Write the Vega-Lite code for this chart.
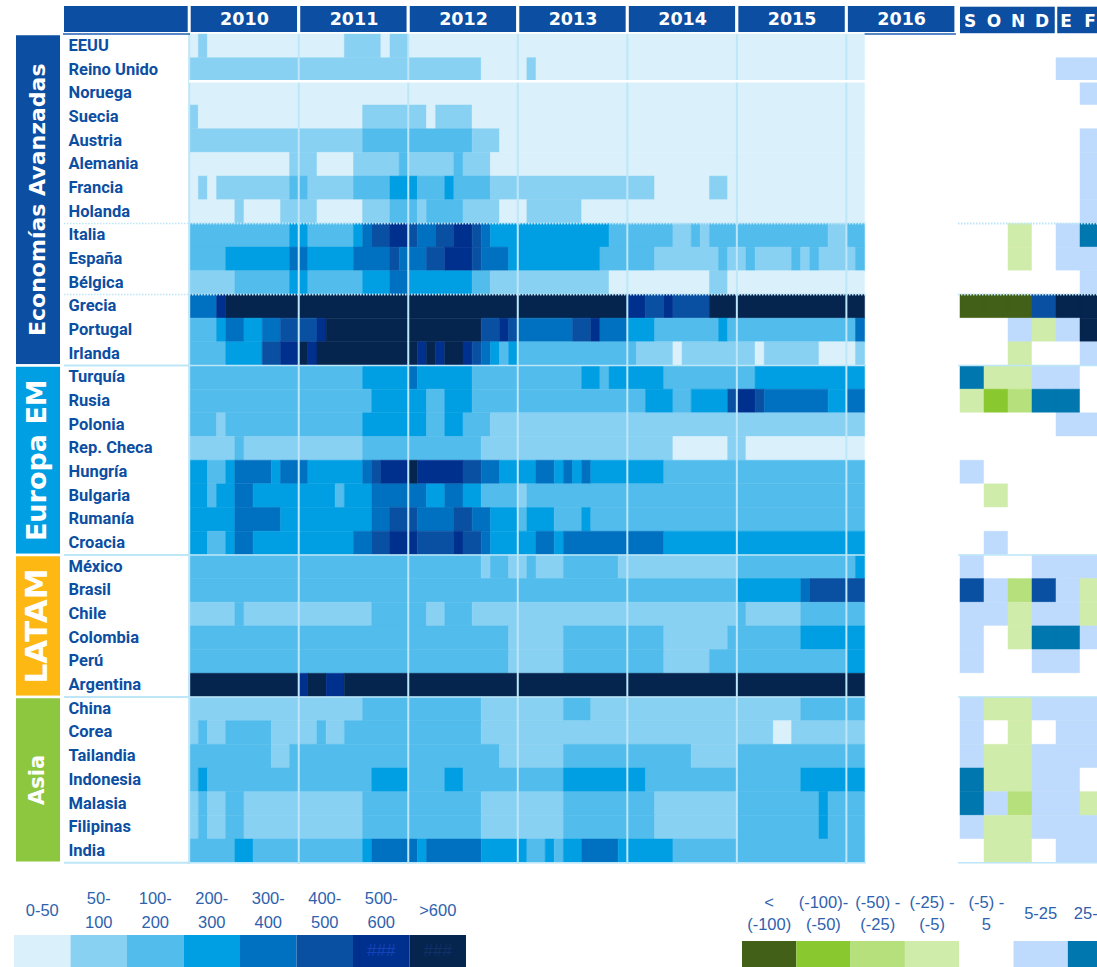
{
"$schema": "https://vega.github.io/schema/vega-lite/v6.json",
"width": 1097, "height": 967, "autosize": "none", "padding": 0, "background": "#ffffff",
"config": {"view": {"stroke": null}, "axis": {"grid": false}, "legend": {"disable": true}},
"resolve": {"scale": {"x": "independent", "y": "independent", "color": "independent", "fill": "independent", "stroke": "independent", "strokeDash": "independent", "strokeWidth": "independent", "size": "independent"}},
"datasets": {
"anios": [{"anio":2010,"desde":0,"hasta":12},{"anio":2011,"desde":12,"hasta":24},{"anio":2012,"desde":24,"hasta":36},{"anio":2013,"desde":36,"hasta":48},{"anio":2014,"desde":48,"hasta":60},{"anio":2015,"desde":60,"hasta":72},{"anio":2016,"desde":72,"hasta":84}],
"meses": [{"mes":"S","anio":2015},{"mes":"O","anio":2015},{"mes":"N","anio":2015},{"mes":"D","anio":2015},{"mes":"E","anio":2016},{"mes":"F","anio":2016}],
"paises": [
{"pais":"EEUU","grupo":"Economías Avanzadas"},{"pais":"Reino Unido","grupo":"Economías Avanzadas"},{"pais":"Noruega","grupo":"Economías Avanzadas"},{"pais":"Suecia","grupo":"Economías Avanzadas"},{"pais":"Austria","grupo":"Economías Avanzadas"},{"pais":"Alemania","grupo":"Economías Avanzadas"},{"pais":"Francia","grupo":"Economías Avanzadas"},{"pais":"Holanda","grupo":"Economías Avanzadas"},{"pais":"Italia","grupo":"Economías Avanzadas"},{"pais":"España","grupo":"Economías Avanzadas"},{"pais":"Bélgica","grupo":"Economías Avanzadas"},{"pais":"Grecia","grupo":"Economías Avanzadas"},{"pais":"Portugal","grupo":"Economías Avanzadas"},{"pais":"Irlanda","grupo":"Economías Avanzadas"},
{"pais":"Turquía","grupo":"Europa EM"},{"pais":"Rusia","grupo":"Europa EM"},{"pais":"Polonia","grupo":"Europa EM"},{"pais":"Rep. Checa","grupo":"Europa EM"},{"pais":"Hungría","grupo":"Europa EM"},{"pais":"Bulgaria","grupo":"Europa EM"},{"pais":"Rumanía","grupo":"Europa EM"},{"pais":"Croacia","grupo":"Europa EM"},
{"pais":"México","grupo":"LATAM"},{"pais":"Brasil","grupo":"LATAM"},{"pais":"Chile","grupo":"LATAM"},{"pais":"Colombia","grupo":"LATAM"},{"pais":"Perú","grupo":"LATAM"},{"pais":"Argentina","grupo":"LATAM"},
{"pais":"China","grupo":"Asia"},{"pais":"Corea","grupo":"Asia"},{"pais":"Tailandia","grupo":"Asia"},{"pais":"Indonesia","grupo":"Asia"},{"pais":"Malasia","grupo":"Asia"},{"pais":"Filipinas","grupo":"Asia"},{"pais":"India","grupo":"Asia"}],
"separadores": [{"pais":"Noruega","linea":"blanca"},{"pais":"Italia","linea":"punteada"},{"pais":"Grecia","linea":"punteada"},{"pais":"Turquía","linea":"continua"},{"pais":"México","linea":"continua"},{"pais":"China","linea":"continua"},{"pais":"(fin)","linea":"continua"}],
"leyenda_niveles": [{"nivel":1,"etiqueta":"0-50"},{"nivel":2,"etiqueta":"50-\n100"},{"nivel":3,"etiqueta":"100-\n200"},{"nivel":4,"etiqueta":"200-\n300"},{"nivel":5,"etiqueta":"300-\n400"},{"nivel":6,"etiqueta":"400-\n500"},{"nivel":7,"etiqueta":"500-\n600","relleno":"###"},{"nivel":8,"etiqueta":">600","relleno":"###"}],
"leyenda_cambios": [{"tramo":-4,"etiqueta":"<\n(-100)"},{"tramo":-3,"etiqueta":"(-100)-\n(-50)"},{"tramo":-2,"etiqueta":"(-50) -\n(-25)"},{"tramo":-1,"etiqueta":"(-25) -\n(-5)"},{"tramo":0,"etiqueta":"(-5) -\n5"},{"tramo":1,"etiqueta":"5-25"},{"tramo":2,"etiqueta":"25-50"}],
"cambios": [
{"pais":"EEUU","mes":"S","tramo":0},{"pais":"EEUU","mes":"O","tramo":0},{"pais":"EEUU","mes":"N","tramo":0},{"pais":"EEUU","mes":"D","tramo":0},{"pais":"EEUU","mes":"E","tramo":0},{"pais":"EEUU","mes":"F","tramo":0},
{"pais":"Reino Unido","mes":"S","tramo":0},{"pais":"Reino Unido","mes":"O","tramo":0},{"pais":"Reino Unido","mes":"N","tramo":0},{"pais":"Reino Unido","mes":"D","tramo":0},{"pais":"Reino Unido","mes":"E","tramo":1},{"pais":"Reino Unido","mes":"F","tramo":1},
{"pais":"Noruega","mes":"S","tramo":0},{"pais":"Noruega","mes":"O","tramo":0},{"pais":"Noruega","mes":"N","tramo":0},{"pais":"Noruega","mes":"D","tramo":0},{"pais":"Noruega","mes":"E","tramo":0},{"pais":"Noruega","mes":"F","tramo":1},
{"pais":"Suecia","mes":"S","tramo":0},{"pais":"Suecia","mes":"O","tramo":0},{"pais":"Suecia","mes":"N","tramo":0},{"pais":"Suecia","mes":"D","tramo":0},{"pais":"Suecia","mes":"E","tramo":0},{"pais":"Suecia","mes":"F","tramo":0},
{"pais":"Austria","mes":"S","tramo":0},{"pais":"Austria","mes":"O","tramo":0},{"pais":"Austria","mes":"N","tramo":0},{"pais":"Austria","mes":"D","tramo":0},{"pais":"Austria","mes":"E","tramo":0},{"pais":"Austria","mes":"F","tramo":1},
{"pais":"Alemania","mes":"S","tramo":0},{"pais":"Alemania","mes":"O","tramo":0},{"pais":"Alemania","mes":"N","tramo":0},{"pais":"Alemania","mes":"D","tramo":0},{"pais":"Alemania","mes":"E","tramo":0},{"pais":"Alemania","mes":"F","tramo":1},
{"pais":"Francia","mes":"S","tramo":0},{"pais":"Francia","mes":"O","tramo":0},{"pais":"Francia","mes":"N","tramo":0},{"pais":"Francia","mes":"D","tramo":0},{"pais":"Francia","mes":"E","tramo":0},{"pais":"Francia","mes":"F","tramo":1},
{"pais":"Holanda","mes":"S","tramo":0},{"pais":"Holanda","mes":"O","tramo":0},{"pais":"Holanda","mes":"N","tramo":0},{"pais":"Holanda","mes":"D","tramo":0},{"pais":"Holanda","mes":"E","tramo":0},{"pais":"Holanda","mes":"F","tramo":1},
{"pais":"Italia","mes":"S","tramo":0},{"pais":"Italia","mes":"O","tramo":0},{"pais":"Italia","mes":"N","tramo":-1},{"pais":"Italia","mes":"D","tramo":0},{"pais":"Italia","mes":"E","tramo":1},{"pais":"Italia","mes":"F","tramo":2},
{"pais":"España","mes":"S","tramo":0},{"pais":"España","mes":"O","tramo":0},{"pais":"España","mes":"N","tramo":-1},{"pais":"España","mes":"D","tramo":0},{"pais":"España","mes":"E","tramo":1},{"pais":"España","mes":"F","tramo":1},
{"pais":"Bélgica","mes":"S","tramo":0},{"pais":"Bélgica","mes":"O","tramo":0},{"pais":"Bélgica","mes":"N","tramo":0},{"pais":"Bélgica","mes":"D","tramo":0},{"pais":"Bélgica","mes":"E","tramo":0},{"pais":"Bélgica","mes":"F","tramo":1},
{"pais":"Grecia","mes":"S","tramo":-4},{"pais":"Grecia","mes":"O","tramo":-4},{"pais":"Grecia","mes":"N","tramo":-4},{"pais":"Grecia","mes":"D","tramo":3},{"pais":"Grecia","mes":"E","tramo":4},{"pais":"Grecia","mes":"F","tramo":4},
{"pais":"Portugal","mes":"S","tramo":0},{"pais":"Portugal","mes":"O","tramo":0},{"pais":"Portugal","mes":"N","tramo":1},{"pais":"Portugal","mes":"D","tramo":-1},{"pais":"Portugal","mes":"E","tramo":1},{"pais":"Portugal","mes":"F","tramo":4},
{"pais":"Irlanda","mes":"S","tramo":0},{"pais":"Irlanda","mes":"O","tramo":0},{"pais":"Irlanda","mes":"N","tramo":-1},{"pais":"Irlanda","mes":"D","tramo":0},{"pais":"Irlanda","mes":"E","tramo":0},{"pais":"Irlanda","mes":"F","tramo":1},
{"pais":"Turquía","mes":"S","tramo":2},{"pais":"Turquía","mes":"O","tramo":-1},{"pais":"Turquía","mes":"N","tramo":-1},{"pais":"Turquía","mes":"D","tramo":1},{"pais":"Turquía","mes":"E","tramo":1},{"pais":"Turquía","mes":"F","tramo":0},
{"pais":"Rusia","mes":"S","tramo":-1},{"pais":"Rusia","mes":"O","tramo":-3},{"pais":"Rusia","mes":"N","tramo":-2},{"pais":"Rusia","mes":"D","tramo":2},{"pais":"Rusia","mes":"E","tramo":2},{"pais":"Rusia","mes":"F","tramo":0},
{"pais":"Polonia","mes":"S","tramo":0},{"pais":"Polonia","mes":"O","tramo":0},{"pais":"Polonia","mes":"N","tramo":0},{"pais":"Polonia","mes":"D","tramo":0},{"pais":"Polonia","mes":"E","tramo":1},{"pais":"Polonia","mes":"F","tramo":1},
{"pais":"Rep. Checa","mes":"S","tramo":0},{"pais":"Rep. Checa","mes":"O","tramo":0},{"pais":"Rep. Checa","mes":"N","tramo":0},{"pais":"Rep. Checa","mes":"D","tramo":0},{"pais":"Rep. Checa","mes":"E","tramo":0},{"pais":"Rep. Checa","mes":"F","tramo":0},
{"pais":"Hungría","mes":"S","tramo":1},{"pais":"Hungría","mes":"O","tramo":0},{"pais":"Hungría","mes":"N","tramo":0},{"pais":"Hungría","mes":"D","tramo":0},{"pais":"Hungría","mes":"E","tramo":0},{"pais":"Hungría","mes":"F","tramo":0},
{"pais":"Bulgaria","mes":"S","tramo":0},{"pais":"Bulgaria","mes":"O","tramo":-1},{"pais":"Bulgaria","mes":"N","tramo":0},{"pais":"Bulgaria","mes":"D","tramo":0},{"pais":"Bulgaria","mes":"E","tramo":0},{"pais":"Bulgaria","mes":"F","tramo":0},
{"pais":"Rumanía","mes":"S","tramo":0},{"pais":"Rumanía","mes":"O","tramo":0},{"pais":"Rumanía","mes":"N","tramo":0},{"pais":"Rumanía","mes":"D","tramo":0},{"pais":"Rumanía","mes":"E","tramo":0},{"pais":"Rumanía","mes":"F","tramo":0},
{"pais":"Croacia","mes":"S","tramo":0},{"pais":"Croacia","mes":"O","tramo":1},{"pais":"Croacia","mes":"N","tramo":0},{"pais":"Croacia","mes":"D","tramo":0},{"pais":"Croacia","mes":"E","tramo":0},{"pais":"Croacia","mes":"F","tramo":0},
{"pais":"México","mes":"S","tramo":1},{"pais":"México","mes":"O","tramo":0},{"pais":"México","mes":"N","tramo":0},{"pais":"México","mes":"D","tramo":1},{"pais":"México","mes":"E","tramo":1},{"pais":"México","mes":"F","tramo":1},
{"pais":"Brasil","mes":"S","tramo":3},{"pais":"Brasil","mes":"O","tramo":1},{"pais":"Brasil","mes":"N","tramo":-2},{"pais":"Brasil","mes":"D","tramo":3},{"pais":"Brasil","mes":"E","tramo":1},{"pais":"Brasil","mes":"F","tramo":-1},
{"pais":"Chile","mes":"S","tramo":1},{"pais":"Chile","mes":"O","tramo":1},{"pais":"Chile","mes":"N","tramo":-1},{"pais":"Chile","mes":"D","tramo":1},{"pais":"Chile","mes":"E","tramo":1},{"pais":"Chile","mes":"F","tramo":-1},
{"pais":"Colombia","mes":"S","tramo":1},{"pais":"Colombia","mes":"O","tramo":0},{"pais":"Colombia","mes":"N","tramo":-1},{"pais":"Colombia","mes":"D","tramo":2},{"pais":"Colombia","mes":"E","tramo":2},{"pais":"Colombia","mes":"F","tramo":1},
{"pais":"Perú","mes":"S","tramo":1},{"pais":"Perú","mes":"O","tramo":0},{"pais":"Perú","mes":"N","tramo":0},{"pais":"Perú","mes":"D","tramo":1},{"pais":"Perú","mes":"E","tramo":1},{"pais":"Perú","mes":"F","tramo":0},
{"pais":"Argentina","mes":"S","tramo":0},{"pais":"Argentina","mes":"O","tramo":0},{"pais":"Argentina","mes":"N","tramo":0},{"pais":"Argentina","mes":"D","tramo":0},{"pais":"Argentina","mes":"E","tramo":0},{"pais":"Argentina","mes":"F","tramo":0},
{"pais":"China","mes":"S","tramo":1},{"pais":"China","mes":"O","tramo":-1},{"pais":"China","mes":"N","tramo":-1},{"pais":"China","mes":"D","tramo":1},{"pais":"China","mes":"E","tramo":1},{"pais":"China","mes":"F","tramo":1},
{"pais":"Corea","mes":"S","tramo":1},{"pais":"Corea","mes":"O","tramo":0},{"pais":"Corea","mes":"N","tramo":-1},{"pais":"Corea","mes":"D","tramo":0},{"pais":"Corea","mes":"E","tramo":1},{"pais":"Corea","mes":"F","tramo":1},
{"pais":"Tailandia","mes":"S","tramo":1},{"pais":"Tailandia","mes":"O","tramo":-1},{"pais":"Tailandia","mes":"N","tramo":-1},{"pais":"Tailandia","mes":"D","tramo":1},{"pais":"Tailandia","mes":"E","tramo":1},{"pais":"Tailandia","mes":"F","tramo":1},
{"pais":"Indonesia","mes":"S","tramo":2},{"pais":"Indonesia","mes":"O","tramo":-1},{"pais":"Indonesia","mes":"N","tramo":-1},{"pais":"Indonesia","mes":"D","tramo":1},{"pais":"Indonesia","mes":"E","tramo":1},{"pais":"Indonesia","mes":"F","tramo":0},
{"pais":"Malasia","mes":"S","tramo":2},{"pais":"Malasia","mes":"O","tramo":1},{"pais":"Malasia","mes":"N","tramo":-2},{"pais":"Malasia","mes":"D","tramo":1},{"pais":"Malasia","mes":"E","tramo":1},{"pais":"Malasia","mes":"F","tramo":-1},
{"pais":"Filipinas","mes":"S","tramo":1},{"pais":"Filipinas","mes":"O","tramo":-1},{"pais":"Filipinas","mes":"N","tramo":-1},{"pais":"Filipinas","mes":"D","tramo":1},{"pais":"Filipinas","mes":"E","tramo":1},{"pais":"Filipinas","mes":"F","tramo":1},
{"pais":"India","mes":"S","tramo":0},{"pais":"India","mes":"O","tramo":-1},{"pais":"India","mes":"N","tramo":-1},{"pais":"India","mes":"D","tramo":0},{"pais":"India","mes":"E","tramo":1},{"pais":"India","mes":"F","tramo":1}],
"mapa": [
{"pais":"EEUU","desde":0,"hasta":1,"nivel":1},{"pais":"EEUU","desde":1,"hasta":2,"nivel":2},{"pais":"EEUU","desde":2,"hasta":17,"nivel":1},{"pais":"EEUU","desde":17,"hasta":21,"nivel":2},{"pais":"EEUU","desde":21,"hasta":22,"nivel":1},{"pais":"EEUU","desde":22,"hasta":24,"nivel":2},{"pais":"EEUU","desde":24,"hasta":74,"nivel":1},
{"pais":"Reino Unido","desde":0,"hasta":32,"nivel":2},{"pais":"Reino Unido","desde":32,"hasta":37,"nivel":1},{"pais":"Reino Unido","desde":37,"hasta":38,"nivel":2},{"pais":"Reino Unido","desde":38,"hasta":74,"nivel":1},
{"pais":"Noruega","desde":0,"hasta":74,"nivel":1},
{"pais":"Suecia","desde":0,"hasta":1,"nivel":2},{"pais":"Suecia","desde":1,"hasta":19,"nivel":1},{"pais":"Suecia","desde":19,"hasta":26,"nivel":2},{"pais":"Suecia","desde":26,"hasta":27,"nivel":1},{"pais":"Suecia","desde":27,"hasta":31,"nivel":2},{"pais":"Suecia","desde":31,"hasta":74,"nivel":1},
{"pais":"Austria","desde":0,"hasta":19,"nivel":2},{"pais":"Austria","desde":19,"hasta":31,"nivel":3},{"pais":"Austria","desde":31,"hasta":34,"nivel":2},{"pais":"Austria","desde":34,"hasta":74,"nivel":1},
{"pais":"Alemania","desde":0,"hasta":11,"nivel":1},{"pais":"Alemania","desde":11,"hasta":14,"nivel":2},{"pais":"Alemania","desde":14,"hasta":18,"nivel":1},{"pais":"Alemania","desde":18,"hasta":23,"nivel":2},{"pais":"Alemania","desde":23,"hasta":24,"nivel":3},{"pais":"Alemania","desde":24,"hasta":29,"nivel":2},{"pais":"Alemania","desde":29,"hasta":30,"nivel":3},{"pais":"Alemania","desde":30,"hasta":33,"nivel":2},{"pais":"Alemania","desde":33,"hasta":74,"nivel":1},
{"pais":"Francia","desde":0,"hasta":1,"nivel":1},{"pais":"Francia","desde":1,"hasta":2,"nivel":2},{"pais":"Francia","desde":2,"hasta":3,"nivel":1},{"pais":"Francia","desde":3,"hasta":11,"nivel":2},{"pais":"Francia","desde":11,"hasta":13,"nivel":3},{"pais":"Francia","desde":13,"hasta":18,"nivel":2},{"pais":"Francia","desde":18,"hasta":22,"nivel":3},{"pais":"Francia","desde":22,"hasta":25,"nivel":4},{"pais":"Francia","desde":25,"hasta":28,"nivel":3},{"pais":"Francia","desde":28,"hasta":29,"nivel":4},{"pais":"Francia","desde":29,"hasta":33,"nivel":3},{"pais":"Francia","desde":33,"hasta":51,"nivel":2},{"pais":"Francia","desde":51,"hasta":57,"nivel":1},{"pais":"Francia","desde":57,"hasta":59,"nivel":2},{"pais":"Francia","desde":59,"hasta":74,"nivel":1},
{"pais":"Holanda","desde":0,"hasta":5,"nivel":1},{"pais":"Holanda","desde":5,"hasta":6,"nivel":2},{"pais":"Holanda","desde":6,"hasta":10,"nivel":1},{"pais":"Holanda","desde":10,"hasta":14,"nivel":2},{"pais":"Holanda","desde":14,"hasta":19,"nivel":1},{"pais":"Holanda","desde":19,"hasta":22,"nivel":2},{"pais":"Holanda","desde":22,"hasta":25,"nivel":3},{"pais":"Holanda","desde":25,"hasta":26,"nivel":2},{"pais":"Holanda","desde":26,"hasta":30,"nivel":3},{"pais":"Holanda","desde":30,"hasta":34,"nivel":2},{"pais":"Holanda","desde":34,"hasta":37,"nivel":1},{"pais":"Holanda","desde":37,"hasta":43,"nivel":2},{"pais":"Holanda","desde":43,"hasta":74,"nivel":1},
{"pais":"Italia","desde":0,"hasta":11,"nivel":3},{"pais":"Italia","desde":11,"hasta":13,"nivel":4},{"pais":"Italia","desde":13,"hasta":18,"nivel":3},{"pais":"Italia","desde":18,"hasta":19,"nivel":4},{"pais":"Italia","desde":19,"hasta":20,"nivel":5},{"pais":"Italia","desde":20,"hasta":22,"nivel":6},{"pais":"Italia","desde":22,"hasta":24,"nivel":7},{"pais":"Italia","desde":24,"hasta":25,"nivel":6},{"pais":"Italia","desde":25,"hasta":27,"nivel":5},{"pais":"Italia","desde":27,"hasta":29,"nivel":6},{"pais":"Italia","desde":29,"hasta":31,"nivel":7},{"pais":"Italia","desde":31,"hasta":32,"nivel":6},{"pais":"Italia","desde":32,"hasta":33,"nivel":5},{"pais":"Italia","desde":33,"hasta":46,"nivel":4},{"pais":"Italia","desde":46,"hasta":53,"nivel":3},{"pais":"Italia","desde":53,"hasta":55,"nivel":2},{"pais":"Italia","desde":55,"hasta":56,"nivel":3},{"pais":"Italia","desde":56,"hasta":57,"nivel":2},{"pais":"Italia","desde":57,"hasta":70,"nivel":3},{"pais":"Italia","desde":70,"hasta":72,"nivel":2},{"pais":"Italia","desde":72,"hasta":74,"nivel":3},
{"pais":"España","desde":0,"hasta":4,"nivel":3},{"pais":"España","desde":4,"hasta":11,"nivel":4},{"pais":"España","desde":11,"hasta":13,"nivel":5},{"pais":"España","desde":13,"hasta":18,"nivel":4},{"pais":"España","desde":18,"hasta":22,"nivel":5},{"pais":"España","desde":22,"hasta":23,"nivel":6},{"pais":"España","desde":23,"hasta":26,"nivel":5},{"pais":"España","desde":26,"hasta":28,"nivel":6},{"pais":"España","desde":28,"hasta":31,"nivel":7},{"pais":"España","desde":31,"hasta":32,"nivel":6},{"pais":"España","desde":32,"hasta":35,"nivel":5},{"pais":"España","desde":35,"hasta":45,"nivel":4},{"pais":"España","desde":45,"hasta":51,"nivel":3},{"pais":"España","desde":51,"hasta":58,"nivel":2},{"pais":"España","desde":58,"hasta":59,"nivel":3},{"pais":"España","desde":59,"hasta":61,"nivel":2},{"pais":"España","desde":61,"hasta":62,"nivel":3},{"pais":"España","desde":62,"hasta":66,"nivel":2},{"pais":"España","desde":66,"hasta":67,"nivel":3},{"pais":"España","desde":67,"hasta":68,"nivel":2},{"pais":"España","desde":68,"hasta":69,"nivel":3},{"pais":"España","desde":69,"hasta":73,"nivel":2},{"pais":"España","desde":73,"hasta":74,"nivel":3},
{"pais":"Bélgica","desde":0,"hasta":5,"nivel":2},{"pais":"Bélgica","desde":5,"hasta":11,"nivel":3},{"pais":"Bélgica","desde":11,"hasta":13,"nivel":4},{"pais":"Bélgica","desde":13,"hasta":19,"nivel":3},{"pais":"Bélgica","desde":19,"hasta":22,"nivel":4},{"pais":"Bélgica","desde":22,"hasta":24,"nivel":5},{"pais":"Bélgica","desde":24,"hasta":31,"nivel":4},{"pais":"Bélgica","desde":31,"hasta":33,"nivel":3},{"pais":"Bélgica","desde":33,"hasta":46,"nivel":2},{"pais":"Bélgica","desde":46,"hasta":57,"nivel":1},{"pais":"Bélgica","desde":57,"hasta":59,"nivel":2},{"pais":"Bélgica","desde":59,"hasta":74,"nivel":1},
{"pais":"Grecia","desde":0,"hasta":3,"nivel":5},{"pais":"Grecia","desde":3,"hasta":4,"nivel":7},{"pais":"Grecia","desde":4,"hasta":48,"nivel":8},{"pais":"Grecia","desde":48,"hasta":50,"nivel":7},{"pais":"Grecia","desde":50,"hasta":52,"nivel":6},{"pais":"Grecia","desde":52,"hasta":53,"nivel":7},{"pais":"Grecia","desde":53,"hasta":57,"nivel":6},{"pais":"Grecia","desde":57,"hasta":74,"nivel":8},
{"pais":"Portugal","desde":0,"hasta":3,"nivel":3},{"pais":"Portugal","desde":3,"hasta":4,"nivel":4},{"pais":"Portugal","desde":4,"hasta":6,"nivel":5},{"pais":"Portugal","desde":6,"hasta":8,"nivel":4},{"pais":"Portugal","desde":8,"hasta":10,"nivel":5},{"pais":"Portugal","desde":10,"hasta":14,"nivel":6},{"pais":"Portugal","desde":14,"hasta":15,"nivel":7},{"pais":"Portugal","desde":15,"hasta":32,"nivel":8},{"pais":"Portugal","desde":32,"hasta":34,"nivel":6},{"pais":"Portugal","desde":34,"hasta":35,"nivel":7},{"pais":"Portugal","desde":35,"hasta":36,"nivel":6},{"pais":"Portugal","desde":36,"hasta":42,"nivel":5},{"pais":"Portugal","desde":42,"hasta":44,"nivel":6},{"pais":"Portugal","desde":44,"hasta":45,"nivel":7},{"pais":"Portugal","desde":45,"hasta":48,"nivel":5},{"pais":"Portugal","desde":48,"hasta":51,"nivel":4},{"pais":"Portugal","desde":51,"hasta":58,"nivel":3},{"pais":"Portugal","desde":58,"hasta":59,"nivel":4},{"pais":"Portugal","desde":59,"hasta":73,"nivel":3},{"pais":"Portugal","desde":73,"hasta":74,"nivel":5},
{"pais":"Irlanda","desde":0,"hasta":4,"nivel":3},{"pais":"Irlanda","desde":4,"hasta":8,"nivel":4},{"pais":"Irlanda","desde":8,"hasta":10,"nivel":6},{"pais":"Irlanda","desde":10,"hasta":12,"nivel":7},{"pais":"Irlanda","desde":12,"hasta":13,"nivel":8},{"pais":"Irlanda","desde":13,"hasta":14,"nivel":7},{"pais":"Irlanda","desde":14,"hasta":25,"nivel":8},{"pais":"Irlanda","desde":25,"hasta":26,"nivel":7},{"pais":"Irlanda","desde":26,"hasta":27,"nivel":8},{"pais":"Irlanda","desde":27,"hasta":28,"nivel":7},{"pais":"Irlanda","desde":28,"hasta":30,"nivel":8},{"pais":"Irlanda","desde":30,"hasta":31,"nivel":7},{"pais":"Irlanda","desde":31,"hasta":32,"nivel":6},{"pais":"Irlanda","desde":32,"hasta":33,"nivel":5},{"pais":"Irlanda","desde":33,"hasta":34,"nivel":4},{"pais":"Irlanda","desde":34,"hasta":35,"nivel":3},{"pais":"Irlanda","desde":35,"hasta":36,"nivel":4},{"pais":"Irlanda","desde":36,"hasta":49,"nivel":3},{"pais":"Irlanda","desde":49,"hasta":53,"nivel":2},{"pais":"Irlanda","desde":53,"hasta":54,"nivel":1},{"pais":"Irlanda","desde":54,"hasta":62,"nivel":2},{"pais":"Irlanda","desde":62,"hasta":63,"nivel":1},{"pais":"Irlanda","desde":63,"hasta":69,"nivel":2},{"pais":"Irlanda","desde":69,"hasta":73,"nivel":1},{"pais":"Irlanda","desde":73,"hasta":74,"nivel":2},
{"pais":"Turquía","desde":0,"hasta":19,"nivel":3},{"pais":"Turquía","desde":19,"hasta":24,"nivel":4},{"pais":"Turquía","desde":24,"hasta":25,"nivel":5},{"pais":"Turquía","desde":25,"hasta":31,"nivel":4},{"pais":"Turquía","desde":31,"hasta":43,"nivel":3},{"pais":"Turquía","desde":43,"hasta":45,"nivel":4},{"pais":"Turquía","desde":45,"hasta":46,"nivel":3},{"pais":"Turquía","desde":46,"hasta":52,"nivel":4},{"pais":"Turquía","desde":52,"hasta":62,"nivel":3},{"pais":"Turquía","desde":62,"hasta":74,"nivel":4},
{"pais":"Rusia","desde":0,"hasta":20,"nivel":3},{"pais":"Rusia","desde":20,"hasta":26,"nivel":4},{"pais":"Rusia","desde":26,"hasta":28,"nivel":3},{"pais":"Rusia","desde":28,"hasta":31,"nivel":4},{"pais":"Rusia","desde":31,"hasta":50,"nivel":3},{"pais":"Rusia","desde":50,"hasta":53,"nivel":4},{"pais":"Rusia","desde":53,"hasta":55,"nivel":3},{"pais":"Rusia","desde":55,"hasta":59,"nivel":4},{"pais":"Rusia","desde":59,"hasta":60,"nivel":6},{"pais":"Rusia","desde":60,"hasta":62,"nivel":7},{"pais":"Rusia","desde":62,"hasta":63,"nivel":6},{"pais":"Rusia","desde":63,"hasta":70,"nivel":5},{"pais":"Rusia","desde":70,"hasta":72,"nivel":4},{"pais":"Rusia","desde":72,"hasta":74,"nivel":5},
{"pais":"Polonia","desde":0,"hasta":3,"nivel":3},{"pais":"Polonia","desde":3,"hasta":4,"nivel":2},{"pais":"Polonia","desde":4,"hasta":19,"nivel":3},{"pais":"Polonia","desde":19,"hasta":26,"nivel":4},{"pais":"Polonia","desde":26,"hasta":28,"nivel":3},{"pais":"Polonia","desde":28,"hasta":30,"nivel":4},{"pais":"Polonia","desde":30,"hasta":33,"nivel":3},{"pais":"Polonia","desde":33,"hasta":74,"nivel":2},
{"pais":"Rep. Checa","desde":0,"hasta":5,"nivel":2},{"pais":"Rep. Checa","desde":5,"hasta":6,"nivel":3},{"pais":"Rep. Checa","desde":6,"hasta":19,"nivel":2},{"pais":"Rep. Checa","desde":19,"hasta":32,"nivel":3},{"pais":"Rep. Checa","desde":32,"hasta":53,"nivel":2},{"pais":"Rep. Checa","desde":53,"hasta":59,"nivel":1},{"pais":"Rep. Checa","desde":59,"hasta":61,"nivel":2},{"pais":"Rep. Checa","desde":61,"hasta":74,"nivel":1},
{"pais":"Hungría","desde":0,"hasta":2,"nivel":4},{"pais":"Hungría","desde":2,"hasta":4,"nivel":3},{"pais":"Hungría","desde":4,"hasta":5,"nivel":4},{"pais":"Hungría","desde":5,"hasta":9,"nivel":5},{"pais":"Hungría","desde":9,"hasta":10,"nivel":4},{"pais":"Hungría","desde":10,"hasta":13,"nivel":5},{"pais":"Hungría","desde":13,"hasta":19,"nivel":4},{"pais":"Hungría","desde":19,"hasta":20,"nivel":5},{"pais":"Hungría","desde":20,"hasta":21,"nivel":6},{"pais":"Hungría","desde":21,"hasta":24,"nivel":7},{"pais":"Hungría","desde":24,"hasta":25,"nivel":8},{"pais":"Hungría","desde":25,"hasta":30,"nivel":7},{"pais":"Hungría","desde":30,"hasta":32,"nivel":6},{"pais":"Hungría","desde":32,"hasta":34,"nivel":5},{"pais":"Hungría","desde":34,"hasta":38,"nivel":4},{"pais":"Hungría","desde":38,"hasta":40,"nivel":5},{"pais":"Hungría","desde":40,"hasta":41,"nivel":4},{"pais":"Hungría","desde":41,"hasta":42,"nivel":5},{"pais":"Hungría","desde":42,"hasta":43,"nivel":4},{"pais":"Hungría","desde":43,"hasta":44,"nivel":5},{"pais":"Hungría","desde":44,"hasta":52,"nivel":4},{"pais":"Hungría","desde":52,"hasta":74,"nivel":3},
{"pais":"Bulgaria","desde":0,"hasta":2,"nivel":4},{"pais":"Bulgaria","desde":2,"hasta":3,"nivel":3},{"pais":"Bulgaria","desde":3,"hasta":5,"nivel":4},{"pais":"Bulgaria","desde":5,"hasta":7,"nivel":5},{"pais":"Bulgaria","desde":7,"hasta":16,"nivel":4},{"pais":"Bulgaria","desde":16,"hasta":17,"nivel":3},{"pais":"Bulgaria","desde":17,"hasta":20,"nivel":4},{"pais":"Bulgaria","desde":20,"hasta":26,"nivel":5},{"pais":"Bulgaria","desde":26,"hasta":28,"nivel":4},{"pais":"Bulgaria","desde":28,"hasta":30,"nivel":5},{"pais":"Bulgaria","desde":30,"hasta":32,"nivel":4},{"pais":"Bulgaria","desde":32,"hasta":36,"nivel":3},{"pais":"Bulgaria","desde":36,"hasta":37,"nivel":2},{"pais":"Bulgaria","desde":37,"hasta":74,"nivel":3},
{"pais":"Rumanía","desde":0,"hasta":5,"nivel":4},{"pais":"Rumanía","desde":5,"hasta":10,"nivel":5},{"pais":"Rumanía","desde":10,"hasta":20,"nivel":4},{"pais":"Rumanía","desde":20,"hasta":22,"nivel":5},{"pais":"Rumanía","desde":22,"hasta":25,"nivel":6},{"pais":"Rumanía","desde":25,"hasta":29,"nivel":5},{"pais":"Rumanía","desde":29,"hasta":31,"nivel":6},{"pais":"Rumanía","desde":31,"hasta":33,"nivel":5},{"pais":"Rumanía","desde":33,"hasta":36,"nivel":4},{"pais":"Rumanía","desde":36,"hasta":37,"nivel":3},{"pais":"Rumanía","desde":37,"hasta":40,"nivel":4},{"pais":"Rumanía","desde":40,"hasta":43,"nivel":3},{"pais":"Rumanía","desde":43,"hasta":44,"nivel":4},{"pais":"Rumanía","desde":44,"hasta":74,"nivel":3},
{"pais":"Croacia","desde":0,"hasta":2,"nivel":4},{"pais":"Croacia","desde":2,"hasta":4,"nivel":3},{"pais":"Croacia","desde":4,"hasta":5,"nivel":4},{"pais":"Croacia","desde":5,"hasta":7,"nivel":5},{"pais":"Croacia","desde":7,"hasta":18,"nivel":4},{"pais":"Croacia","desde":18,"hasta":20,"nivel":5},{"pais":"Croacia","desde":20,"hasta":22,"nivel":6},{"pais":"Croacia","desde":22,"hasta":25,"nivel":7},{"pais":"Croacia","desde":25,"hasta":29,"nivel":6},{"pais":"Croacia","desde":29,"hasta":30,"nivel":7},{"pais":"Croacia","desde":30,"hasta":32,"nivel":6},{"pais":"Croacia","desde":32,"hasta":33,"nivel":5},{"pais":"Croacia","desde":33,"hasta":38,"nivel":4},{"pais":"Croacia","desde":38,"hasta":40,"nivel":5},{"pais":"Croacia","desde":40,"hasta":41,"nivel":4},{"pais":"Croacia","desde":41,"hasta":52,"nivel":5},{"pais":"Croacia","desde":52,"hasta":74,"nivel":4},
{"pais":"México","desde":0,"hasta":32,"nivel":3},{"pais":"México","desde":32,"hasta":33,"nivel":2},{"pais":"México","desde":33,"hasta":35,"nivel":3},{"pais":"México","desde":35,"hasta":37,"nivel":2},{"pais":"México","desde":37,"hasta":38,"nivel":3},{"pais":"México","desde":38,"hasta":41,"nivel":2},{"pais":"México","desde":41,"hasta":47,"nivel":3},{"pais":"México","desde":47,"hasta":60,"nivel":2},{"pais":"México","desde":60,"hasta":73,"nivel":3},{"pais":"México","desde":73,"hasta":74,"nivel":4},
{"pais":"Brasil","desde":0,"hasta":60,"nivel":3},{"pais":"Brasil","desde":60,"hasta":67,"nivel":4},{"pais":"Brasil","desde":67,"hasta":68,"nivel":5},{"pais":"Brasil","desde":68,"hasta":74,"nivel":6},
{"pais":"Chile","desde":0,"hasta":5,"nivel":2},{"pais":"Chile","desde":5,"hasta":6,"nivel":3},{"pais":"Chile","desde":6,"hasta":20,"nivel":2},{"pais":"Chile","desde":20,"hasta":26,"nivel":3},{"pais":"Chile","desde":26,"hasta":28,"nivel":2},{"pais":"Chile","desde":28,"hasta":31,"nivel":3},{"pais":"Chile","desde":31,"hasta":60,"nivel":2},{"pais":"Chile","desde":60,"hasta":61,"nivel":3},{"pais":"Chile","desde":61,"hasta":67,"nivel":2},{"pais":"Chile","desde":67,"hasta":74,"nivel":3},
{"pais":"Colombia","desde":0,"hasta":35,"nivel":3},{"pais":"Colombia","desde":35,"hasta":41,"nivel":2},{"pais":"Colombia","desde":41,"hasta":52,"nivel":3},{"pais":"Colombia","desde":52,"hasta":59,"nivel":2},{"pais":"Colombia","desde":59,"hasta":67,"nivel":3},{"pais":"Colombia","desde":67,"hasta":74,"nivel":4},
{"pais":"Perú","desde":0,"hasta":35,"nivel":3},{"pais":"Perú","desde":35,"hasta":41,"nivel":2},{"pais":"Perú","desde":41,"hasta":52,"nivel":3},{"pais":"Perú","desde":52,"hasta":57,"nivel":2},{"pais":"Perú","desde":57,"hasta":72,"nivel":3},{"pais":"Perú","desde":72,"hasta":74,"nivel":4},
{"pais":"Argentina","desde":0,"hasta":12,"nivel":8},{"pais":"Argentina","desde":12,"hasta":13,"nivel":7},{"pais":"Argentina","desde":13,"hasta":15,"nivel":8},{"pais":"Argentina","desde":15,"hasta":17,"nivel":7},{"pais":"Argentina","desde":17,"hasta":74,"nivel":8},
{"pais":"China","desde":0,"hasta":19,"nivel":2},{"pais":"China","desde":19,"hasta":32,"nivel":3},{"pais":"China","desde":32,"hasta":41,"nivel":2},{"pais":"China","desde":41,"hasta":44,"nivel":3},{"pais":"China","desde":44,"hasta":67,"nivel":2},{"pais":"China","desde":67,"hasta":74,"nivel":3},
{"pais":"Corea","desde":0,"hasta":1,"nivel":2},{"pais":"Corea","desde":1,"hasta":2,"nivel":3},{"pais":"Corea","desde":2,"hasta":4,"nivel":2},{"pais":"Corea","desde":4,"hasta":9,"nivel":3},{"pais":"Corea","desde":9,"hasta":14,"nivel":2},{"pais":"Corea","desde":14,"hasta":15,"nivel":3},{"pais":"Corea","desde":15,"hasta":17,"nivel":2},{"pais":"Corea","desde":17,"hasta":32,"nivel":3},{"pais":"Corea","desde":32,"hasta":64,"nivel":2},{"pais":"Corea","desde":64,"hasta":66,"nivel":1},{"pais":"Corea","desde":66,"hasta":74,"nivel":2},
{"pais":"Tailandia","desde":0,"hasta":9,"nivel":3},{"pais":"Tailandia","desde":9,"hasta":11,"nivel":2},{"pais":"Tailandia","desde":11,"hasta":34,"nivel":3},{"pais":"Tailandia","desde":34,"hasta":41,"nivel":2},{"pais":"Tailandia","desde":41,"hasta":55,"nivel":3},{"pais":"Tailandia","desde":55,"hasta":60,"nivel":2},{"pais":"Tailandia","desde":60,"hasta":74,"nivel":3},
{"pais":"Indonesia","desde":0,"hasta":1,"nivel":3},{"pais":"Indonesia","desde":1,"hasta":2,"nivel":4},{"pais":"Indonesia","desde":2,"hasta":20,"nivel":3},{"pais":"Indonesia","desde":20,"hasta":24,"nivel":4},{"pais":"Indonesia","desde":24,"hasta":28,"nivel":3},{"pais":"Indonesia","desde":28,"hasta":30,"nivel":4},{"pais":"Indonesia","desde":30,"hasta":41,"nivel":3},{"pais":"Indonesia","desde":41,"hasta":50,"nivel":4},{"pais":"Indonesia","desde":50,"hasta":67,"nivel":3},{"pais":"Indonesia","desde":67,"hasta":74,"nivel":4},
{"pais":"Malasia","desde":0,"hasta":1,"nivel":2},{"pais":"Malasia","desde":1,"hasta":2,"nivel":3},{"pais":"Malasia","desde":2,"hasta":4,"nivel":2},{"pais":"Malasia","desde":4,"hasta":6,"nivel":3},{"pais":"Malasia","desde":6,"hasta":19,"nivel":2},{"pais":"Malasia","desde":19,"hasta":32,"nivel":3},{"pais":"Malasia","desde":32,"hasta":41,"nivel":2},{"pais":"Malasia","desde":41,"hasta":51,"nivel":3},{"pais":"Malasia","desde":51,"hasta":60,"nivel":2},{"pais":"Malasia","desde":60,"hasta":69,"nivel":3},{"pais":"Malasia","desde":69,"hasta":70,"nivel":4},{"pais":"Malasia","desde":70,"hasta":74,"nivel":3},
{"pais":"Filipinas","desde":0,"hasta":1,"nivel":2},{"pais":"Filipinas","desde":1,"hasta":2,"nivel":3},{"pais":"Filipinas","desde":2,"hasta":4,"nivel":2},{"pais":"Filipinas","desde":4,"hasta":6,"nivel":3},{"pais":"Filipinas","desde":6,"hasta":19,"nivel":2},{"pais":"Filipinas","desde":19,"hasta":32,"nivel":3},{"pais":"Filipinas","desde":32,"hasta":41,"nivel":2},{"pais":"Filipinas","desde":41,"hasta":51,"nivel":3},{"pais":"Filipinas","desde":51,"hasta":60,"nivel":2},{"pais":"Filipinas","desde":60,"hasta":69,"nivel":3},{"pais":"Filipinas","desde":69,"hasta":70,"nivel":4},{"pais":"Filipinas","desde":70,"hasta":74,"nivel":3},
{"pais":"India","desde":0,"hasta":5,"nivel":3},{"pais":"India","desde":5,"hasta":7,"nivel":4},{"pais":"India","desde":7,"hasta":19,"nivel":3},{"pais":"India","desde":19,"hasta":20,"nivel":4},{"pais":"India","desde":20,"hasta":25,"nivel":5},{"pais":"India","desde":25,"hasta":26,"nivel":4},{"pais":"India","desde":26,"hasta":32,"nivel":5},{"pais":"India","desde":32,"hasta":37,"nivel":4},{"pais":"India","desde":37,"hasta":39,"nivel":3},{"pais":"India","desde":39,"hasta":40,"nivel":4},{"pais":"India","desde":40,"hasta":41,"nivel":3},{"pais":"India","desde":41,"hasta":43,"nivel":4},{"pais":"India","desde":43,"hasta":47,"nivel":5},{"pais":"India","desde":47,"hasta":53,"nivel":4},{"pais":"India","desde":53,"hasta":74,"nivel":3}]
},
"layer": [
{"data": {"values": [{"celda": "países"}]},
 "mark": {"type": "rect", "fill": "#0B4EA2"},
 "encoding": {
  "x": {"datum": 0, "type": "quantitative", "scale": {"domain": [0, 1], "range": [64, 189], "nice": false, "zero": false}, "axis": null},
  "x2": {"datum": 1},
  "y": {"datum": "cabecera", "type": "nominal", "scale": {"type": "band", "domain": ["cabecera"], "range": [6, 32], "paddingInner": 0, "paddingOuter": 0}, "axis": null}}},
{"data": {"name": "anios"},
 "mark": {"type": "rect", "fill": "#0B4EA2", "stroke": "#ffffff", "strokeWidth": 3},
 "encoding": {
  "x": {"field": "desde", "type": "quantitative", "scale": {"domain": [0, 84], "range": [189.2, 955.9], "nice": false, "zero": false},
        "axis": {"orient": "top", "offset": -19, "values": [6, 18, 30, 42, 54, 66, 78], "labelExpr": "'' + (2010 + floor(datum.value / 12))", "domain": false, "ticks": false, "tickSize": 0, "labelPadding": 0, "labelBaseline": "middle", "labelAlign": "center", "labelColor": "#ffffff", "labelFont": "DejaVu Sans", "labelFontSize": 17.5, "labelFontWeight": "bold", "labelFlush": false, "labelOverlap": false, "title": null, "grid": false, "zindex": 2}},
  "x2": {"field": "hasta"},
  "y": {"datum": "cabecera", "type": "nominal", "scale": {"type": "band", "domain": ["cabecera"], "range": [4.5, 33.5], "paddingInner": 0, "paddingOuter": 0}, "axis": null}}},
{"data": {"name": "meses"},
 "mark": {"type": "rect", "fill": "#0B4EA2"},
 "encoding": {
  "x": {"field": "mes", "type": "nominal", "scale": {"type": "band", "domain": ["S","O","N","D","E","F"], "range": [960, 1104], "paddingInner": 0, "paddingOuter": 0}, "axis": null},
  "y": {"datum": "cabecera", "type": "nominal", "scale": {"type": "band", "domain": ["cabecera"], "range": [6.7, 33.3], "paddingInner": 0, "paddingOuter": 0}, "axis": null}}},
{"data": {"values": [{"corte": "2015-2016"}]},
 "mark": {"type": "rule", "color": "#ffffff", "strokeWidth": 2.5},
 "encoding": {
  "x": {"datum": "E", "type": "nominal", "bandPosition": 0, "scale": {"type": "band", "domain": ["S","O","N","D","E","F"], "range": [960, 1104], "paddingInner": 0, "paddingOuter": 0}, "axis": null},
  "y": {"datum": 0, "type": "quantitative", "scale": {"domain": [0, 1], "range": [5, 34], "nice": false, "zero": false}, "axis": null},
  "y2": {"datum": 1}}},
{"data": {"name": "meses"},
 "mark": {"type": "text", "color": "#ffffff", "font": "DejaVu Sans", "fontSize": 17, "fontWeight": "bold", "align": "center", "baseline": "middle"},
 "encoding": {
  "x": {"field": "mes", "type": "nominal", "scale": {"type": "band", "domain": ["S","O","N","D","E","F"], "range": [958, 1102], "paddingInner": 0, "paddingOuter": 0}, "axis": null},
  "y": {"datum": "cabecera", "type": "nominal", "scale": {"type": "band", "domain": ["cabecera"], "range": [8, 35], "paddingInner": 0, "paddingOuter": 0}, "axis": null},
  "text": {"field": "mes"}}},
{"data": {"name": "mapa"},
 "mark": {"type": "rect", "strokeWidth": 0.5},
 "encoding": {
  "x": {"field": "desde", "type": "quantitative", "scale": {"domain": [0, 74], "range": [189.2, 864.6], "nice": false, "zero": false}, "axis": null},
  "x2": {"field": "hasta"},
  "y": {"field": "pais", "type": "nominal", "scale": {"type": "band", "domain": ["EEUU","Reino Unido","Noruega","Suecia","Austria","Alemania","Francia","Holanda","Italia","España","Bélgica","Grecia","Portugal","Irlanda","Turquía","Rusia","Polonia","Rep. Checa","Hungría","Bulgaria","Rumanía","Croacia","México","Brasil","Chile","Colombia","Perú","Argentina","China","Corea","Tailandia","Indonesia","Malasia","Filipinas","India"], "range": [34, 862.7], "paddingInner": 0, "paddingOuter": 0},
        "axis": {"orient": "left", "offset": -189.2, "domain": false, "ticks": false, "tickSize": 0, "labelPadding": 121.2, "labelAlign": "left", "labelBaseline": "middle", "labelColor": "#0B4EA2", "labelFont": "Roboto", "labelFontSize": 16.5, "labelFontWeight": "bold", "labelLimit": 200, "labelOverlap": false, "title": null, "grid": false, "zindex": 2}},
  "fill": {"field": "nivel", "type": "ordinal", "scale": {"domain": [1,2,3,4,5,6,7,8], "range": ["#DAF1FB","#89D1F3","#52BCEC","#009FE3","#0070C0","#0A50A2","#00308E","#05254F"]}, "legend": null},
  "stroke": {"field": "nivel", "type": "ordinal", "scale": {"domain": [1,2,3,4,5,6,7,8], "range": ["#DAF1FB","#89D1F3","#52BCEC","#009FE3","#0070C0","#0A50A2","#00308E","#05254F"]}, "legend": null}}},
{"data": {"name": "cambios"},
 "mark": {"type": "rect", "strokeWidth": 0.5},
 "encoding": {
  "x": {"field": "mes", "type": "nominal", "scale": {"type": "band", "domain": ["S","O","N","D","E","F"], "range": [960, 1104], "paddingInner": 0, "paddingOuter": 0}, "axis": null},
  "y": {"field": "pais", "type": "nominal", "scale": {"type": "band", "domain": ["EEUU","Reino Unido","Noruega","Suecia","Austria","Alemania","Francia","Holanda","Italia","España","Bélgica","Grecia","Portugal","Irlanda","Turquía","Rusia","Polonia","Rep. Checa","Hungría","Bulgaria","Rumanía","Croacia","México","Brasil","Chile","Colombia","Perú","Argentina","China","Corea","Tailandia","Indonesia","Malasia","Filipinas","India"], "range": [34, 862.7], "paddingInner": 0, "paddingOuter": 0}, "axis": null},
  "fill": {"field": "tramo", "type": "ordinal", "scale": {"domain": [-4,-3,-2,-1,0,1,2,3,4], "range": ["#426017","#89C82F","#B6E07C","#D0ECAA","#FFFFFF","#BEDBFD","#0077AF","#0A50A2","#05254F"]}, "legend": null},
  "stroke": {"field": "tramo", "type": "ordinal", "scale": {"domain": [-4,-3,-2,-1,0,1,2,3,4], "range": ["#426017","#89C82F","#B6E07C","#D0ECAA","#FFFFFF","#BEDBFD","#0077AF","#0A50A2","#05254F"]}, "legend": null}}},
{"data": {"name": "anios"},
 "mark": {"type": "rule", "color": "#BDE6F8", "strokeWidth": 2},
 "encoding": {
  "x": {"field": "desde", "type": "quantitative", "scale": {"domain": [0, 84], "range": [189.2, 955.9], "nice": false, "zero": false}, "axis": null},
  "y": {"datum": 0, "type": "quantitative", "scale": {"domain": [0, 1], "range": [34, 864], "nice": false, "zero": false}, "axis": null},
  "y2": {"datum": 1}}},
{"data": {"name": "separadores"},
 "mark": {"type": "rule"},
 "encoding": {
  "y": {"field": "pais", "type": "nominal", "bandPosition": 0, "scale": {"type": "band", "domain": ["EEUU","Reino Unido","Noruega","Suecia","Austria","Alemania","Francia","Holanda","Italia","España","Bélgica","Grecia","Portugal","Irlanda","Turquía","Rusia","Polonia","Rep. Checa","Hungría","Bulgaria","Rumanía","Croacia","México","Brasil","Chile","Colombia","Perú","Argentina","China","Corea","Tailandia","Indonesia","Malasia","Filipinas","India","(fin)"], "range": [34, 886.38], "paddingInner": 0, "paddingOuter": 0}, "axis": null},
  "x": {"datum": 0, "type": "quantitative", "scale": {"domain": [0, 1], "range": [189, 866], "nice": false, "zero": false}, "axis": null},
  "x2": {"datum": 1},
  "color": {"field": "linea", "type": "nominal", "scale": {"domain": ["blanca","punteada","continua"], "range": ["#ffffff","#BDE6F8","#BDE6F8"]}, "legend": null},
  "strokeDash": {"field": "linea", "type": "nominal", "scale": {"domain": ["blanca","punteada","continua"], "range": [[1,0],[1.5,1.5],[1,0]]}, "legend": null},
  "strokeWidth": {"field": "linea", "type": "ordinal", "scale": {"domain": ["blanca","punteada","continua"], "range": [2.5,1.5,2]}, "legend": null}}},
{"data": {"name": "separadores"},
 "transform": [{"filter": "datum.linea != 'blanca'"}],
 "mark": {"type": "rule"},
 "encoding": {
  "y": {"field": "pais", "type": "nominal", "bandPosition": 0, "scale": {"type": "band", "domain": ["EEUU","Reino Unido","Noruega","Suecia","Austria","Alemania","Francia","Holanda","Italia","España","Bélgica","Grecia","Portugal","Irlanda","Turquía","Rusia","Polonia","Rep. Checa","Hungría","Bulgaria","Rumanía","Croacia","México","Brasil","Chile","Colombia","Perú","Argentina","China","Corea","Tailandia","Indonesia","Malasia","Filipinas","India","(fin)"], "range": [34, 886.38], "paddingInner": 0, "paddingOuter": 0}, "axis": null},
  "x": {"datum": 0, "type": "quantitative", "scale": {"domain": [0, 1], "range": [64, 190], "nice": false, "zero": false}, "axis": null},
  "x2": {"datum": 1},
  "strokeDash": {"field": "linea", "type": "nominal", "scale": {"domain": ["punteada","continua"], "range": [[1.5,1.5],[1,0]]}, "legend": null},
  "strokeWidth": {"field": "linea", "type": "ordinal", "scale": {"domain": ["punteada","continua"], "range": [1.5,2]}, "legend": null},
  "color": {"value": "#BDE6F8"}}},
{"data": {"name": "separadores"},
 "mark": {"type": "rule"},
 "encoding": {
  "y": {"field": "pais", "type": "nominal", "bandPosition": 0, "scale": {"type": "band", "domain": ["EEUU","Reino Unido","Noruega","Suecia","Austria","Alemania","Francia","Holanda","Italia","España","Bélgica","Grecia","Portugal","Irlanda","Turquía","Rusia","Polonia","Rep. Checa","Hungría","Bulgaria","Rumanía","Croacia","México","Brasil","Chile","Colombia","Perú","Argentina","China","Corea","Tailandia","Indonesia","Malasia","Filipinas","India","(fin)"], "range": [34, 886.38], "paddingInner": 0, "paddingOuter": 0}, "axis": null},
  "x": {"datum": 0, "type": "quantitative", "scale": {"domain": [0, 1], "range": [958, 1104], "nice": false, "zero": false}, "axis": null},
  "x2": {"datum": 1},
  "color": {"field": "linea", "type": "nominal", "scale": {"domain": ["blanca","punteada","continua"], "range": ["#ffffff","#BDE6F8","#BDE6F8"]}, "legend": null},
  "strokeDash": {"field": "linea", "type": "nominal", "scale": {"domain": ["blanca","punteada","continua"], "range": [[1,0],[1.5,1.5],[1,0]]}, "legend": null},
  "strokeWidth": {"field": "linea", "type": "ordinal", "scale": {"domain": ["blanca","punteada","continua"], "range": [2.5,1.5,2]}, "legend": null}}},
{"data": {"name": "paises"},
 "transform": [
  {"window": [{"op": "row_number", "as": "fin"}, {"op": "count", "as": "inicio"}], "frame": [null, -1]},
  {"aggregate": [{"op": "min", "field": "inicio", "as": "desde"}, {"op": "max", "field": "fin", "as": "hasta"}], "groupby": ["grupo"]}],
 "mark": {"type": "rect", "stroke": "#ffffff", "strokeWidth": 2.5},
 "encoding": {
  "y": {"field": "desde", "type": "quantitative", "scale": {"domain": [0, 35], "range": [34, 862.7], "nice": false, "zero": false}, "axis": null},
  "y2": {"field": "hasta"},
  "x": {"datum": 0, "type": "quantitative", "scale": {"domain": [0, 1], "range": [14.75, 61.25], "nice": false, "zero": false}, "axis": null},
  "x2": {"datum": 1},
  "fill": {"field": "grupo", "type": "nominal", "scale": {"domain": ["Economías Avanzadas","Europa EM","LATAM","Asia"], "range": ["#0B4EA2","#009FE3","#FDB813","#8DC63F"]}, "legend": null}}},
{"data": {"name": "paises"},
 "transform": [
  {"window": [{"op": "row_number", "as": "fin"}]},
  {"aggregate": [{"op": "mean", "field": "fin", "as": "centro"}], "groupby": ["grupo"]}],
 "mark": {"type": "text", "angle": 270, "font": "DejaVu Sans", "fontWeight": "bold", "color": "#ffffff", "align": "center", "baseline": "middle"},
 "encoding": {
  "y": {"field": "centro", "type": "quantitative", "scale": {"domain": [0.5, 35.5], "range": [34, 862.7], "nice": false, "zero": false}, "axis": null},
  "x": {"datum": 0.5, "type": "quantitative", "scale": {"domain": [0, 1], "range": [16, 60], "nice": false, "zero": false}, "axis": null},
  "size": {"field": "grupo", "type": "nominal", "scale": {"type": "ordinal", "domain": ["Economías Avanzadas","Europa EM","LATAM","Asia"], "range": [22, 27, 31, 21]}, "legend": null},
  "text": {"field": "grupo"}}},
{"data": {"values": [{"borde": "etiquetas"}]},
 "mark": {"type": "rule", "color": "#1F5FB5", "strokeWidth": 1.3},
 "encoding": {
  "x": {"datum": 0, "type": "quantitative", "scale": {"domain": [0, 1], "range": [63, 190], "nice": false, "zero": false}, "axis": null},
  "x2": {"datum": 1},
  "y": {"datum": 0, "type": "quantitative", "scale": {"domain": [0, 1], "range": [34, 35], "nice": false, "zero": false}, "axis": null}}},
{"data": {"values": [{"borde": "2016"}]},
 "mark": {"type": "rule", "color": "#1F5FB5", "strokeWidth": 1.3},
 "encoding": {
  "x": {"datum": 74, "type": "quantitative", "scale": {"domain": [0, 84], "range": [189.2, 955.9], "nice": false, "zero": false}, "axis": null},
  "x2": {"datum": 84},
  "y": {"datum": 0, "type": "quantitative", "scale": {"domain": [0, 1], "range": [34, 35], "nice": false, "zero": false}, "axis": null}}},
{"data": {"name": "leyenda_niveles"},
 "mark": {"type": "rect"},
 "encoding": {
  "x": {"field": "nivel", "type": "ordinal", "scale": {"type": "band", "domain": [1,2,3,4,5,6,7,8], "range": [14, 466], "paddingInner": 0, "paddingOuter": 0}, "axis": null},
  "y": {"datum": "muestra", "type": "nominal", "scale": {"type": "band", "domain": ["muestra"], "range": [935, 976], "paddingInner": 0, "paddingOuter": 0}, "axis": null},
  "fill": {"field": "nivel", "type": "ordinal", "scale": {"domain": [1,2,3,4,5,6,7,8], "range": ["#DAF1FB","#89D1F3","#52BCEC","#009FE3","#0070C0","#0A50A2","#00308E","#05254F"]}, "legend": null}}},
{"data": {"name": "leyenda_niveles"},
 "transform": [{"filter": "indexof(datum.etiqueta, '\\n') >= 0"}],
 "mark": {"type": "text", "font": "Liberation Sans", "fontSize": 16.5, "color": "#2E62AD", "align": "center", "baseline": "middle", "lineBreak": "\n", "lineHeight": 24},
 "encoding": {
  "x": {"field": "nivel", "type": "ordinal", "scale": {"type": "band", "domain": [1,2,3,4,5,6,7,8], "range": [14, 466], "paddingInner": 0, "paddingOuter": 0}, "axis": null},
  "y": {"datum": "etiqueta", "type": "nominal", "scale": {"type": "band", "domain": ["etiqueta"], "range": [887, 911], "paddingInner": 0, "paddingOuter": 0}, "axis": null},
  "text": {"field": "etiqueta"}}},
{"data": {"name": "leyenda_niveles"},
 "transform": [{"filter": "indexof(datum.etiqueta, '\\n') < 0"}],
 "mark": {"type": "text", "font": "Liberation Sans", "fontSize": 16.5, "color": "#2E62AD", "align": "center", "baseline": "middle"},
 "encoding": {
  "x": {"field": "nivel", "type": "ordinal", "scale": {"type": "band", "domain": [1,2,3,4,5,6,7,8], "range": [14, 466], "paddingInner": 0, "paddingOuter": 0}, "axis": null},
  "y": {"datum": "etiqueta", "type": "nominal", "scale": {"type": "band", "domain": ["etiqueta"], "range": [899, 923], "paddingInner": 0, "paddingOuter": 0}, "axis": null},
  "text": {"field": "etiqueta"}}},
{"data": {"name": "leyenda_niveles"},
 "transform": [{"filter": "isValid(datum.relleno)"}],
 "mark": {"type": "text", "font": "Liberation Sans", "fontSize": 17, "align": "center", "baseline": "middle"},
 "encoding": {
  "x": {"field": "nivel", "type": "ordinal", "scale": {"type": "band", "domain": [1,2,3,4,5,6,7,8], "range": [14, 466], "paddingInner": 0, "paddingOuter": 0}, "axis": null},
  "y": {"datum": "relleno", "type": "nominal", "scale": {"type": "band", "domain": ["relleno"], "range": [941, 961], "paddingInner": 0, "paddingOuter": 0}, "axis": null},
  "fill": {"field": "nivel", "type": "ordinal", "scale": {"domain": [7, 8], "range": ["#1743BA", "#0F3068"]}, "legend": null},
  "text": {"field": "relleno"}}},
{"data": {"name": "leyenda_cambios"},
 "mark": {"type": "rect"},
 "encoding": {
  "x": {"field": "tramo", "type": "ordinal", "scale": {"type": "band", "domain": [-4,-3,-2,-1,0,1,2,3,4], "range": [742, 1230.7], "paddingInner": 0, "paddingOuter": 0}, "axis": null},
  "y": {"datum": "muestra", "type": "nominal", "scale": {"type": "band", "domain": ["muestra"], "range": [941, 976], "paddingInner": 0, "paddingOuter": 0}, "axis": null},
  "fill": {"field": "tramo", "type": "ordinal", "scale": {"domain": [-4,-3,-2,-1,0,1,2,3,4], "range": ["#426017","#89C82F","#B6E07C","#D0ECAA","#FFFFFF","#BEDBFD","#0077AF","#0A50A2","#05254F"]}, "legend": null}}},
{"data": {"name": "leyenda_cambios"},
 "transform": [{"filter": "indexof(datum.etiqueta, '\\n') >= 0"}],
 "mark": {"type": "text", "font": "Liberation Sans", "fontSize": 16.5, "color": "#2E62AD", "align": "center", "baseline": "middle", "lineBreak": "\n", "lineHeight": 22},
 "encoding": {
  "x": {"field": "tramo", "type": "ordinal", "scale": {"type": "band", "domain": [-4,-3,-2,-1,0,1,2,3,4], "range": [742, 1230.7], "paddingInner": 0, "paddingOuter": 0}, "axis": null},
  "y": {"datum": "etiqueta", "type": "nominal", "scale": {"type": "band", "domain": ["etiqueta"], "range": [892, 914], "paddingInner": 0, "paddingOuter": 0}, "axis": null},
  "text": {"field": "etiqueta"}}},
{"data": {"name": "leyenda_cambios"},
 "transform": [{"filter": "indexof(datum.etiqueta, '\\n') < 0"}],
 "mark": {"type": "text", "font": "Liberation Sans", "fontSize": 16.5, "color": "#2E62AD", "align": "center", "baseline": "middle"},
 "encoding": {
  "x": {"field": "tramo", "type": "ordinal", "scale": {"type": "band", "domain": [-4,-3,-2,-1,0,1,2,3,4], "range": [742, 1230.7], "paddingInner": 0, "paddingOuter": 0}, "axis": null},
  "y": {"datum": "etiqueta", "type": "nominal", "scale": {"type": "band", "domain": ["etiqueta"], "range": [903, 925], "paddingInner": 0, "paddingOuter": 0}, "axis": null},
  "text": {"field": "etiqueta"}}}
]
}
